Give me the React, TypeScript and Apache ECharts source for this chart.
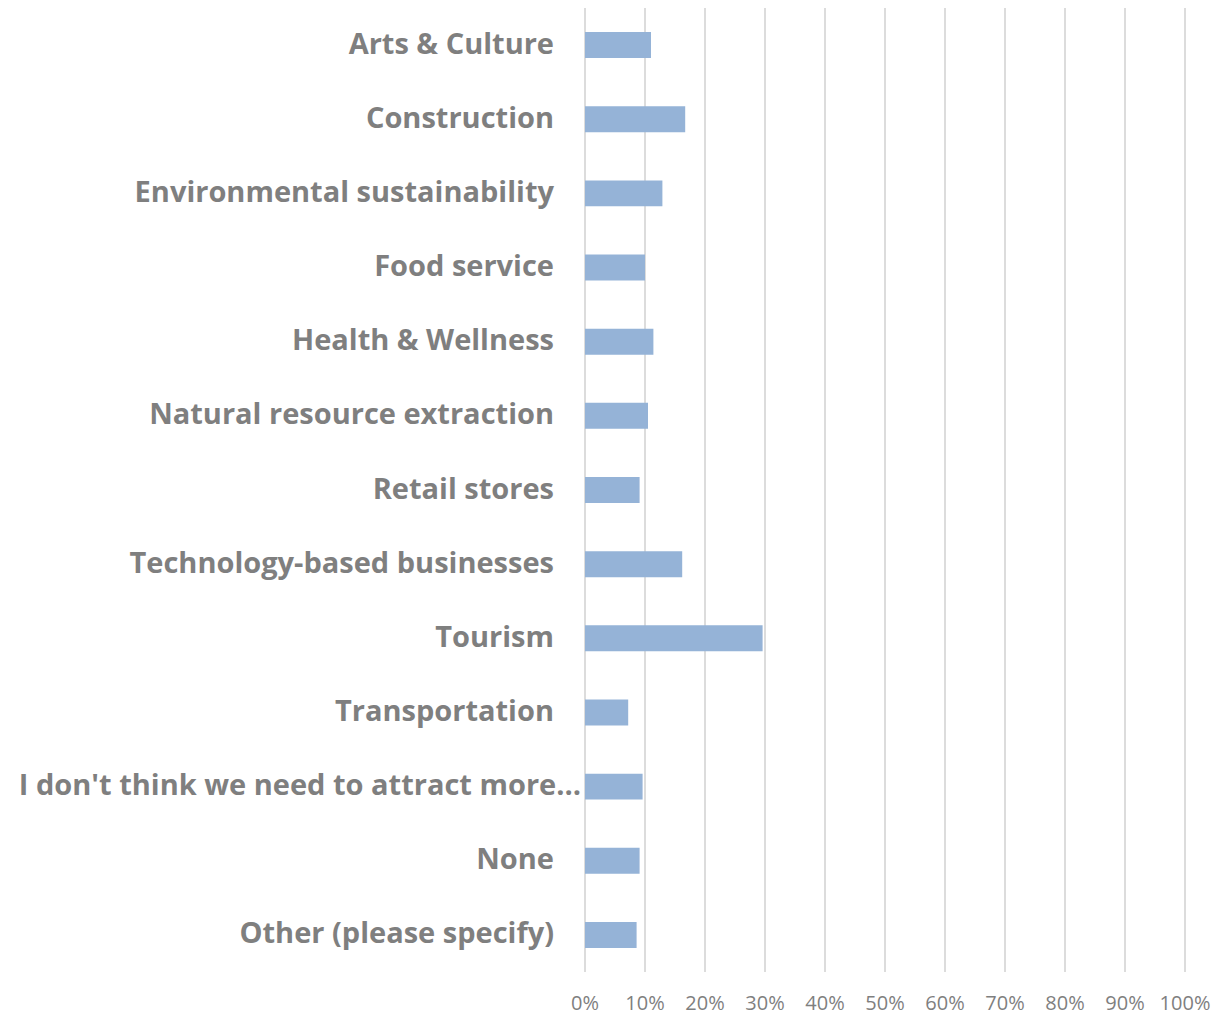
import React, { useEffect, useRef } from "react";
import * as echarts from "echarts";

const categories = [
  "Arts & Culture",
  "Construction",
  "Environmental sustainability",
  "Food service",
  "Health & Wellness",
  "Natural resource extraction",
  "Retail stores",
  "Technology-based businesses",
  "Tourism",
  "Transportation",
  "I don't think we need to attract more…",
  "None",
  "Other (please specify)",
];

const values = [11.0, 16.7, 12.9, 10.0, 11.4, 10.5, 9.1, 16.2, 29.6, 7.2, 9.6, 9.1, 8.6];

const xTicks = [0, 10, 20, 30, 40, 50, 60, 70, 80, 90, 100];

const LONG_INDEX = 10;

export default function App() {
  const ref = useRef<HTMLDivElement>(null);
  useEffect(() => {
    if (!ref.current) return;
    const chart = echarts.init(ref.current, undefined, { renderer: "svg" });
    const labelRich = {
      a: {
        color: "#7f7f7f",
        fontFamily: "Open Sans",
        fontWeight: "bold",
        fontSize: 29,
        padding: [0, 0, 6, 0],
      },
    };
    const baseY = {
      type: "category",
      data: categories,
      inverse: true,
      position: "left",
      axisLine: { show: false },
      axisTick: { show: false },
      splitLine: { show: false },
    };
    chart.setOption({
      animation: false,
      grid: {
        left: 585,
        right: 35,
        top: 8,
        bottom: 43,
        containLabel: false,
        outerBoundsMode: "none",
      },
      xAxis: {
        type: "value",
        min: xTicks[0],
        max: xTicks[xTicks.length - 1],
        interval: 10,
        axisLine: { show: false },
        axisTick: { show: false },
        splitLine: { show: true, lineStyle: { color: "#dcdcdc", width: 2 } },
        axisLabel: {
          formatter: "{value}%",
          color: "#7f7f7f",
          fontFamily: "Open Sans",
          fontSize: 20,
          margin: 20,
        },
      },
      yAxis: [
        {
          ...baseY,
          axisLabel: {
            margin: 31,
            formatter: (v: string, i: number) => (i === LONG_INDEX ? "" : `{a|${v}}`),
            rich: labelRich,
          },
        },
        {
          ...baseY,
          offset: 0,
          axisLabel: {
            margin: 4,
            formatter: (v: string, i: number) => (i === LONG_INDEX ? `{a|${v}}` : ""),
            rich: labelRich,
          },
        },
      ],
      series: [
        {
          type: "bar",
          data: values,
          barWidth: "35%",
          yAxisIndex: 0,
          itemStyle: { color: "#95b3d7" },
        },
      ],
    });
    return () => chart.dispose();
  }, []);
  return (
    <div
      ref={ref}
      style={{ position: "absolute", left: 0, top: 0, width: 1220, height: 1015 }}
    />
  );
}
